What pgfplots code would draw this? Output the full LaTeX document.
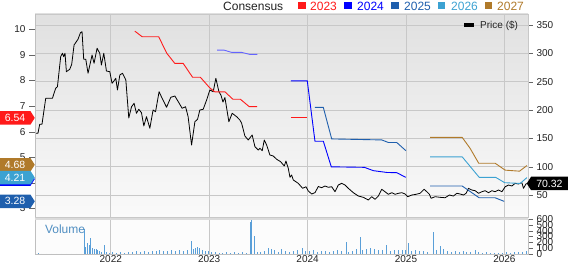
\documentclass[border=0pt]{standalone}
\usepackage{pgfplots}
\pgfplotsset{compat=1.18}
\usepackage{fontspec}
\setmainfont{Liberation Sans}
\usetikzlibrary{shapes.symbols}
\definecolor{cRed}{HTML}{FF1A1A}
\definecolor{cBlue}{HTML}{0000FF}
\definecolor{cBlueL}{HTML}{6464FF}
\definecolor{cSteel}{HTML}{1F5FAD}
\definecolor{cSky}{HTML}{3CA2D2}
\definecolor{cBrown}{HTML}{B07A2A}
\definecolor{cGrid}{HTML}{C8C8C8}
\definecolor{cVol}{HTML}{5A9FD8}
\definecolor{cTxt}{HTML}{222222}
\begin{document}
\begin{tikzpicture}[font=\fontsize{10}{12}\selectfont]
\useasboundingbox (0,0) rectangle (568pt,264pt);
\pgfplotsset{every axis/.append style={scale only axis, width=493pt,
  xmin=2021.23, xmax=2026.24, /pgf/number format/assume math mode=true,
  every tick label/.append style={font=\fontsize{10}{12}\selectfont, text=cTxt},
  clip mode=individual},
  every axis plot/.append style={mark=none}}
\tikzset{tag/.style={signal, signal pointer angle=115, text=white, inner sep=1pt,
  minimum height=13.5pt, font=\fontsize{10.5}{12}\selectfont}}

% ---------- price axis (right) ----------
\begin{axis}[at={(35pt,47pt)}, anchor=south west, height=203pt,
  ymin=11.2, ymax=369.4,
  axis background/.style={top color=black!12, bottom color=black!2},
  axis line style={cGrid},
  xtick={2022,2023,2024,2025,2026}, xticklabels={}, xmajorgrids,
  x tick style={draw=none},
  ytick={50,100,...,350}, ymajorgrids, ytick pos=right, yticklabel pos=right,
  tick align=outside, major tick length=5pt, y tick style={black!60},
  grid style={cGrid, line width=0.7pt}]
\addplot[black, line width=0.8pt, line join=round] coordinates {
(2021.237,158.9)(2021.260,158.9)(2021.278,174.8)(2021.301,174.8)(2021.339,220.6)(2021.407,220.6)(2021.440,238.3)(2021.458,241.1)(2021.491,294.1)(2021.509,300.1)(2021.522,294.1)(2021.535,300.1)(2021.549,267.6)(2021.583,271.8)(2021.603,280.6)(2021.627,314.7)(2021.667,324.8)(2021.692,336.4)(2021.708,338.2)(2021.725,289.5)(2021.746,289.5)(2021.769,264.8)(2021.810,297.1)(2021.830,282.4)(2021.861,308.9)(2021.888,300.1)(2021.905,279.4)(2021.929,300.1)(2021.956,268.8)(2021.990,267.6)(2022.013,247.1)(2022.034,251.7)(2022.051,255.9)(2022.068,235.3)(2022.092,261.8)(2022.119,264.8)(2022.153,252.9)(2022.183,185.9)(2022.211,205.8)(2022.237,211.8)(2022.261,194.2)(2022.285,201.2)(2022.312,195.2)(2022.336,171.8)(2022.363,188.2)(2022.397,167.7)(2022.430,200.0)(2022.455,197.0)(2022.491,232.3)(2022.522,220.6)(2022.567,204.8)(2022.610,222.4)(2022.651,224.7)(2022.692,212.9)(2022.725,203.0)(2022.760,205.8)(2022.786,188.2)(2022.821,138.2)(2022.855,179.4)(2022.882,183.6)(2022.905,200.0)(2022.939,201.2)(2022.974,217.6)(2023.007,235.3)(2023.041,232.3)(2023.068,255.9)(2023.099,232.3)(2023.120,226.0)(2023.140,214.0)(2023.160,222.0)(2023.200,179.4)(2023.234,194.2)(2023.279,188.2)(2023.312,182.4)(2023.330,176.5)(2023.363,154.1)(2023.397,147.1)(2023.437,155.9)(2023.465,135.2)(2023.498,129.4)(2023.516,132.4)(2023.539,128.2)(2023.560,147.1)(2023.584,138.2)(2023.617,120.6)(2023.651,118.8)(2023.686,113.0)(2023.726,108.8)(2023.763,101.2)(2023.780,110.0)(2023.804,97.1)(2023.821,81.2)(2023.838,85.3)(2023.855,76.5)(2023.905,70.6)(2023.950,61.8)(2023.984,64.6)(2024.007,57.1)(2024.042,51.8)(2024.075,54.1)(2024.109,65.0)(2024.143,62.9)(2024.177,65.9)(2024.211,63.6)(2024.245,64.6)(2024.279,55.8)(2024.312,67.6)(2024.347,70.6)(2024.380,67.6)(2024.414,61.8)(2024.465,54.1)(2024.516,48.2)(2024.567,45.9)(2024.617,41.2)(2024.652,47.0)(2024.686,42.4)(2024.719,48.2)(2024.754,60.1)(2024.787,55.8)(2024.821,51.2)(2024.856,54.1)(2024.889,51.2)(2024.923,53.0)(2024.957,54.1)(2024.991,51.8)(2025.018,47.0)(2025.059,50.0)(2025.093,50.9)(2025.143,53.0)(2025.184,60.1)(2025.212,55.8)(2025.238,51.2)(2025.255,44.2)(2025.296,47.0)(2025.347,45.9)(2025.398,45.2)(2025.441,50.0)(2025.482,48.2)(2025.517,53.0)(2025.550,51.8)(2025.584,50.0)(2025.611,53.0)(2025.635,61.8)(2025.669,58.8)(2025.703,57.6)(2025.737,53.0)(2025.771,55.8)(2025.805,57.6)(2025.838,54.1)(2025.873,57.6)(2025.906,55.8)(2025.940,58.8)(2025.975,55.8)(2026.008,64.6)(2026.042,67.6)(2026.076,65.9)(2026.110,70.6)(2026.143,69.4)(2026.178,71.7)(2026.194,61.8)(2026.219,69.4)(2026.235,70.32)};
\node[tag, signal to=west, fill=black, anchor=west, minimum width=41pt] at (axis cs:2026.225,70.32) {70.32};
\end{axis}

% ---------- EPS consensus axis (left) ----------
\begin{axis}[at={(35pt,47pt)}, anchor=south west, height=203pt,
  ymin=2.67, ymax=10.60,
  axis y line*=left, axis x line=none, axis line style={black!25},
  ytick={3,4,...,10}, tick align=outside, major tick length=6pt,
  y tick style={black!60}]
% 2023
\addplot[cRed, line width=0.9pt] coordinates {(2022.244,9.93)(2022.320,9.71)(2022.487,9.71)(2022.570,9.06)(2022.651,8.67)(2022.736,8.67)(2022.831,8.13)(2022.910,8.13)(2023.007,7.71)(2023.058,7.56)(2023.160,7.56)(2023.241,7.27)(2023.317,7.27)(2023.407,6.98)(2023.488,6.98)};
\addplot[cRed, line width=0.9pt] coordinates {(2023.831,6.54)(2023.991,6.54)};
% 2024
\addplot[cBlueL, line width=0.9pt] coordinates {(2023.081,9.19)(2023.150,9.19)(2023.228,9.10)(2023.330,9.10)(2023.414,9.02)(2023.489,9.02)};
\addplot[cBlue, line width=0.9pt] coordinates {(2023.831,7.99)(2023.997,7.99)(2024.075,5.63)(2024.160,5.63)(2024.241,4.63)(2024.577,4.61)(2024.668,4.48)(2024.805,4.41)(2024.906,4.40)(2024.998,4.22)};
% 2025
\addplot[cSteel, line width=0.9pt] coordinates {(2024.075,6.95)(2024.160,6.95)(2024.245,5.72)(2024.754,5.68)(2024.821,5.58)(2024.906,5.58)(2024.999,5.26)};
\addplot[cSteel, line width=0.9pt] coordinates {(2025.245,3.88)(2025.571,3.88)(2025.744,3.42)(2025.906,3.42)(2025.998,3.28)};
% 2026
\addplot[cSky, line width=0.9pt] coordinates {(2025.245,5.02)(2025.571,5.02)(2025.744,4.22)(2025.911,4.22)(2026.003,4.01)(2026.161,3.98)(2026.229,4.21)};
% 2027
\addplot[cBrown, line width=0.9pt] coordinates {(2025.245,5.78)(2025.571,5.78)(2025.652,5.35)(2025.739,4.77)(2025.906,4.77)(2026.008,4.50)(2026.154,4.46)(2026.229,4.68)};
% value tags
\node[tag, signal to=east, fill=cRed, anchor=east, minimum width=35pt] at (axis cs:2021.23,6.54) {6.54};
\node[tag, signal to=east, fill=cBrown, anchor=east, minimum width=35pt] at (axis cs:2021.23,4.71) {4.68};
\node[tag, signal to=east, fill=cBlue, anchor=east, minimum width=35pt] at (axis cs:2021.23,4.15) {};
\node[tag, signal to=east, fill=cSky, anchor=east, minimum width=35pt] at (axis cs:2021.23,4.21) {4.21};
\node[tag, signal to=east, fill=cSteel, anchor=east, minimum width=35pt] at (axis cs:2021.23,3.28) {3.28};
\end{axis}

% ---------- volume axis ----------
\begin{axis}[at={(35pt,10pt)}, anchor=south west, height=35pt,
  ymin=0, ymax=600, ytick={0,100,...,600},
  ytick pos=right, yticklabel pos=right, tick align=outside, major tick length=5pt,
  y tick style={black!60},
  axis background/.style={fill=black!1},
  axis line style={black!25},
  xtick={2022,2023,2024,2025,2026}, xticklabels={2022,2023,2024,2025,2026},
  x tick style={draw=none}, xmajorgrids, grid style={cGrid, line width=0.7pt},
  xticklabel style={yshift=5pt, inner sep=1pt}]
\addplot[ycomb, cVol, line width=1pt] coordinates {
(2021.25,5)(2021.27,15)(2021.30,4)(2021.35,5)(2021.40,4)(2021.45,6)(2021.50,5)(2021.55,6)(2021.60,5)(2021.65,7)(2021.70,6)
(2021.728,430)(2021.745,120)(2021.762,195)(2021.785,150)(2021.795,275)(2021.81,100)(2021.83,90)(2021.85,80)(2021.87,60)(2021.89,45)(2021.91,40)(2021.936,155)(2021.96,30)(2021.99,25)
(2022.02,30)(2022.06,20)(2022.10,35)(2022.14,25)(2022.18,40)(2022.22,30)(2022.26,45)(2022.30,35)(2022.34,50)(2022.38,40)(2022.42,55)(2022.46,45)(2022.50,60)(2022.54,50)(2022.58,55)(2022.62,65)(2022.66,50)(2022.70,70)(2022.74,45)(2022.78,60)(2022.821,225)(2022.84,90)(2022.86,110)(2022.88,120)(2022.90,95)(2022.93,70)(2022.96,55)(2022.99,45)
(2023.02,40)(2023.06,30)(2023.10,25)(2023.14,20)(2023.18,35)(2023.22,25)(2023.26,30)(2023.30,20)(2023.34,35)(2023.38,25)(2023.42,550)(2023.435,575)(2023.46,300)(2023.49,40)(2023.52,30)(2023.56,45)(2023.60,100)(2023.63,85)(2023.66,60)(2023.70,40)(2023.74,80)(2023.78,50)(2023.82,40)(2023.86,55)(2023.90,70)(2023.95,100)(2023.98,50)
(2024.02,45)(2024.06,60)(2024.10,40)(2024.14,55)(2024.18,45)(2024.22,35)(2024.26,50)(2024.30,60)(2024.34,45)(2024.398,200)(2024.42,40)(2024.46,55)(2024.50,80)(2024.533,285)(2024.56,70)(2024.60,90)(2024.64,100)(2024.68,85)(2024.72,75)(2024.76,60)(2024.805,150)(2024.84,55)(2024.88,70)(2024.92,60)(2024.96,75)(2024.99,60)
(2025.021,180)(2025.06,50)(2025.10,60)(2025.14,45)(2025.18,55)(2025.22,40)(2025.279,370)(2025.31,60)(2025.347,140)(2025.38,80)(2025.42,55)(2025.46,40)(2025.50,50)(2025.54,35)(2025.58,45)(2025.62,30)(2025.66,40)(2025.703,70)(2025.74,30)(2025.78,25)(2025.82,30)(2025.86,20)(2025.90,25)(2025.94,20)(2025.98,25)(2026.02,30)(2026.06,25)(2026.10,35)(2026.14,30)(2026.18,40)(2026.22,45)};
\draw[black!14, line width=2pt] (rel axis cs:0,1) -- (rel axis cs:1,1);
\node[anchor=west, text=cVol!90!black, font=\fontsize{12}{14}\selectfont, inner sep=0pt] at (rel axis cs:0.02,0.71) {Volume};
\end{axis}

% ---------- top legend ----------
\begin{scope}[font=\fontsize{12}{14}\selectfont]
\node[anchor=west, inner sep=0pt, text=cTxt] at (223pt,258pt) {Consensus};
\fill[cRed] (298pt,254.5pt) rectangle (306pt,262pt);
\node[anchor=west, inner sep=0pt, text=cRed] at (310pt,258pt) {2023};
\fill[cBlue] (344pt,254.5pt) rectangle (352pt,262pt);
\node[anchor=west, inner sep=0pt, text=cBlue] at (357pt,258pt) {2024};
\fill[cSteel] (391pt,254.5pt) rectangle (399pt,262pt);
\node[anchor=west, inner sep=0pt, text=cSteel] at (404pt,258pt) {2025};
\fill[cSky] (438pt,254.5pt) rectangle (445pt,262pt);
\node[anchor=west, inner sep=0pt, text=cSky] at (451pt,258pt) {2026};
\fill[cBrown] (485pt,254.5pt) rectangle (492pt,262pt);
\node[anchor=west, inner sep=0pt, text=cBrown] at (497pt,258pt) {2027};
\end{scope}
\fill[black] (464pt,237.3pt) rectangle (474pt,240.7pt);
\node[anchor=west, inner sep=0pt, text=cTxt] at (480pt,238.5pt) {Price (\$)};
\end{tikzpicture}
\end{document}
